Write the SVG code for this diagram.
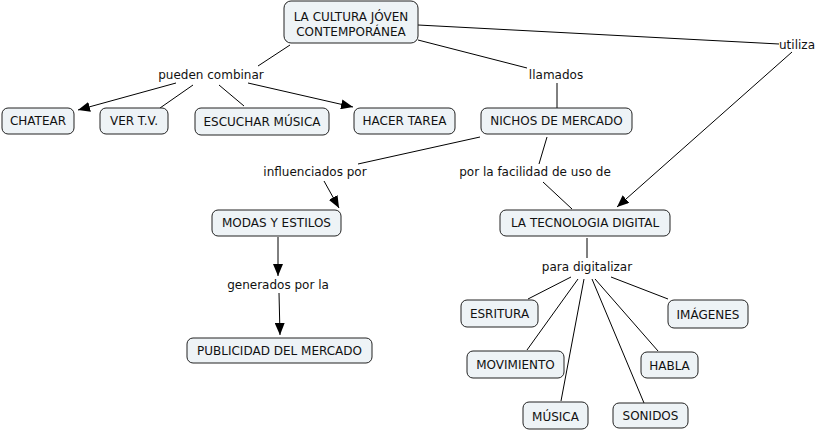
<svg xmlns="http://www.w3.org/2000/svg" width="821" height="433" viewBox="0 0 821 433">
<defs>
<marker id="ah" viewBox="0 0 12 10" refX="12" refY="5" markerWidth="12" markerHeight="10" markerUnits="userSpaceOnUse" orient="auto">
<path d="M0,0 L12,5 L0,10 z" fill="#000"/>
</marker>
<style>
.n rect{fill:#eef3f6;stroke:#222;stroke-width:1}
text{font-family:"DejaVu Sans",Verdana,sans-serif;font-size:12px;fill:#111;text-anchor:middle}
.c line{stroke:#000;stroke-width:1}
.a{marker-end:url(#ah)}
</style>
</defs>
<rect width="821" height="433" fill="#fff"/>
<g class="c">
<line x1="290" y1="45" x2="258" y2="66"/>
<line class="a" x1="176" y1="83" x2="78" y2="110"/>
<line x1="193" y1="85" x2="160" y2="108"/>
<line x1="219" y1="85" x2="244" y2="106"/>
<line class="a" x1="248" y1="83" x2="353" y2="107"/>
<line x1="418" y1="40" x2="527" y2="68"/>
<line x1="557" y1="83" x2="557" y2="108"/>
<line x1="418" y1="25" x2="779" y2="44"/>
<line class="a" x1="792" y1="52" x2="617" y2="207"/>
<line x1="480" y1="137" x2="358" y2="164"/>
<line class="a" x1="324" y1="181" x2="339" y2="208"/>
<line x1="547" y1="137" x2="539" y2="164"/>
<line x1="543" y1="182" x2="572" y2="209"/>
<line class="a" x1="278" y1="237" x2="278" y2="276"/>
<line class="a" x1="279" y1="293" x2="280" y2="335"/>
<line x1="587" y1="238" x2="587" y2="258"/>
<line x1="571" y1="277" x2="528" y2="299"/>
<line x1="578" y1="279" x2="527" y2="350"/>
<line x1="584" y1="279" x2="561" y2="401"/>
<line x1="592" y1="279" x2="644" y2="403"/>
<line x1="595" y1="279" x2="658" y2="351"/>
<line x1="611" y1="277" x2="668" y2="299"/>
</g>
<g id="lbl-pueden"><text x="211" y="79">pueden combinar</text></g>
<g id="lbl-llamados"><text x="556" y="79">llamados</text></g>
<g id="lbl-utiliza"><text x="797" y="49">utiliza</text></g>
<g id="lbl-influenciados"><text x="315" y="176">influenciados por</text></g>
<g id="lbl-facilidad"><text x="535" y="176">por la facilidad de uso de</text></g>
<g id="lbl-generados"><text x="278" y="289">generados por la</text></g>
<g id="lbl-para"><text x="587" y="271">para digitalizar</text></g>
<g id="n-cultura" class="n"><rect x="284" y="1" width="134" height="42" rx="7"/><text x="351" y="21">LA CULTURA JÓVEN</text><text x="351" y="36">CONTEMPORÁNEA</text></g>
<g id="n-chatear" class="n"><rect x="2" y="108" width="72" height="26" rx="6"/><text x="38" y="125">CHATEAR</text></g>
<g id="n-vertv" class="n"><rect x="100" y="108" width="68" height="26" rx="6"/><text x="134" y="125">VER T.V.</text></g>
<g id="n-escuchar" class="n"><rect x="195" y="108" width="134" height="27" rx="6"/><text x="262" y="126">ESCUCHAR MÚSICA</text></g>
<g id="n-hacer" class="n"><rect x="354" y="108" width="101" height="26" rx="6"/><text x="404.5" y="125">HACER TAREA</text></g>
<g id="n-nichos" class="n"><rect x="481" y="108" width="151" height="26" rx="6"/><text x="556.5" y="125">NICHOS DE MERCADO</text></g>
<g id="n-modas" class="n"><rect x="212" y="210" width="129" height="26" rx="6"/><text x="276.5" y="227">MODAS Y ESTILOS</text></g>
<g id="n-tecnologia" class="n"><rect x="500" y="210" width="170" height="26" rx="6"/><text x="585" y="227">LA TECNOLOGIA DIGITAL</text></g>
<g id="n-publicidad" class="n"><rect x="187" y="338" width="185" height="25" rx="6"/><text x="279.5" y="355">PUBLICIDAD DEL MERCADO</text></g>
<g id="n-esritura" class="n"><rect x="461" y="300" width="77" height="27" rx="6"/><text x="499.5" y="318">ESRITURA</text></g>
<g id="n-imagenes" class="n"><rect x="668" y="300" width="80" height="28" rx="6"/><text x="708" y="319">IMÁGENES</text></g>
<g id="n-movimiento" class="n"><rect x="467" y="351" width="97" height="27" rx="6"/><text x="515.5" y="369">MOVIMIENTO</text></g>
<g id="n-habla" class="n"><rect x="641" y="352" width="57" height="26" rx="6"/><text x="669.5" y="370">HABLA</text></g>
<g id="n-musica" class="n"><rect x="523" y="402" width="65" height="27" rx="6"/><text x="555.5" y="421">MÚSICA</text></g>
<g id="n-sonidos" class="n"><rect x="613" y="403" width="75" height="25" rx="6"/><text x="650.5" y="420">SONIDOS</text></g>
</svg>
